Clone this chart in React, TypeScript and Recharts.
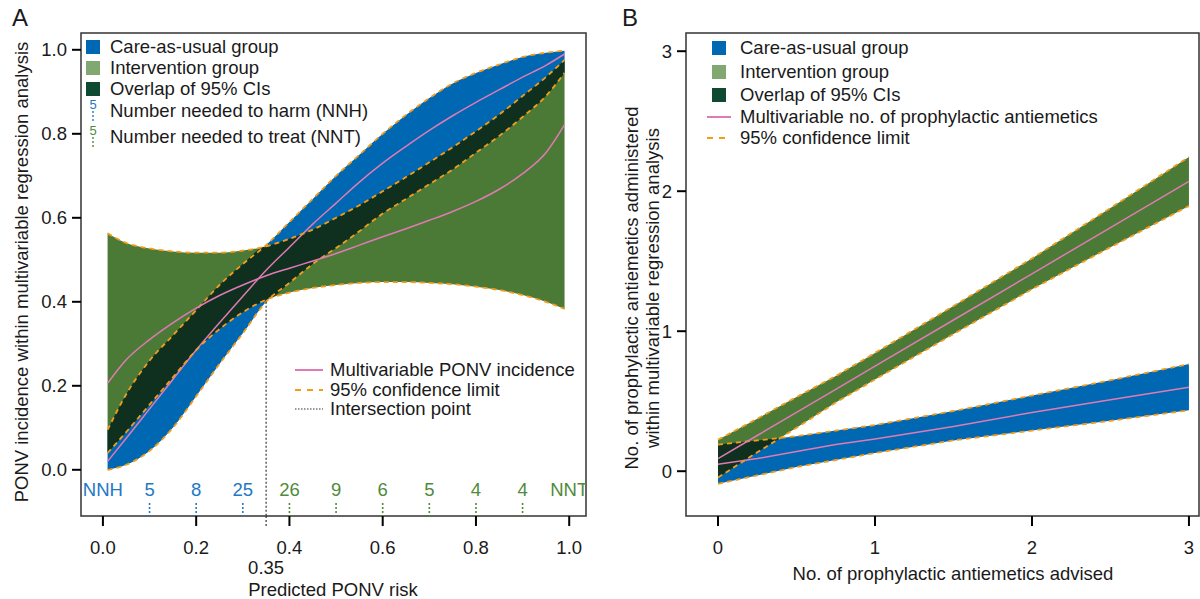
import React from 'react';
import { ComposedChart, Area, Line, XAxis, YAxis, ReferenceArea, ReferenceLine, Scatter } from 'recharts';

const FONT = '"Liberation Sans", Arial, Helvetica, sans-serif';
const TXT = '#1a1a1a';
const BLUE = '#0067b2';
const GREEN = '#4b7a36';
const DARK = '#001e1a';
const PINK = '#e07ab5';
const ORANGE = '#f39c1c';
const NNH_BLUE = '#2278c4';
const NNT_GREEN = '#4f8b3b';
const LEG_BLUE = '#0067b2';
const LEG_GREEN = '#82a872';
const LEG_DARK = '#0d4a31';
const FS = 18.5;

// ---------- Panel A data ----------
const riskX = [0.01, 0.05, 0.1, 0.15, 0.2, 0.25, 0.3, 0.35, 0.4, 0.45, 0.5, 0.55, 0.6, 0.65, 0.7, 0.75, 0.8, 0.85, 0.9, 0.95, 0.99];
const careEstA = [0.02, 0.075, 0.145, 0.215, 0.285, 0.35, 0.413, 0.475, 0.53, 0.585, 0.635, 0.685, 0.73, 0.77, 0.808, 0.843, 0.875, 0.905, 0.935, 0.963, 0.99];
const careHiA = [0.095, 0.18, 0.26, 0.32, 0.38, 0.44, 0.49, 0.535, 0.59, 0.645, 0.7, 0.75, 0.8, 0.845, 0.885, 0.92, 0.945, 0.965, 0.983, 0.993, 0.998];
const careLoA = [0.0, 0.012, 0.045, 0.1, 0.175, 0.252, 0.325, 0.4, 0.445, 0.49, 0.528, 0.568, 0.61, 0.645, 0.68, 0.715, 0.755, 0.795, 0.84, 0.89, 0.945];
const intEstA = [0.206, 0.262, 0.31, 0.35, 0.385, 0.415, 0.44, 0.462, 0.48, 0.497, 0.515, 0.535, 0.555, 0.574, 0.594, 0.615, 0.639, 0.668, 0.705, 0.755, 0.822];
const intHiA = [0.563, 0.54, 0.527, 0.52, 0.517, 0.517, 0.522, 0.532, 0.55, 0.572, 0.6, 0.63, 0.663, 0.697, 0.732, 0.768, 0.806, 0.846, 0.89, 0.935, 0.976];
const intLoA = [0.04, 0.09, 0.155, 0.22, 0.285, 0.335, 0.375, 0.405, 0.422, 0.433, 0.44, 0.445, 0.447, 0.447, 0.445, 0.442, 0.436, 0.428, 0.416, 0.4, 0.383];
const xTicksA = [0, 0.2, 0.35, 0.4, 0.6, 0.8, 1];
const yTicksA = [0, 0.2, 0.4, 0.6, 0.8, 1];
const intersectionX = 0.35;
const intersectionLowY = 0.4;
const nnhX = [0.1, 0.2, 0.3];
const nnhLabels = ['5', '8', '25'];
const nntX = [0.4, 0.5, 0.6, 0.7, 0.8, 0.9];
const nntLabels = ['26', '9', '6', '5', '4', '4'];
const nnRowY = -0.048;
const xDomA: [number, number] = [-0.047, 1.036];
const yDomA: [number, number] = [-0.11, 1.04];

// ---------- Panel B data ----------
const advisedX = [0, 0.25, 0.5, 0.75, 1, 1.5, 2, 2.5, 3];
const careEstB = [0.05, 0.09, 0.14, 0.19, 0.23, 0.32, 0.42, 0.51, 0.6];
const careHiB = [0.19, 0.22, 0.25, 0.29, 0.33, 0.43, 0.54, 0.65, 0.765];
const careLoB = [-0.09, -0.03, 0.03, 0.08, 0.13, 0.22, 0.29, 0.36, 0.435];
const intEstB = [0.09, 0.255, 0.42, 0.585, 0.75, 1.08, 1.41, 1.74, 2.07];
const intHiB = [0.225, 0.375, 0.53, 0.68, 0.845, 1.18, 1.52, 1.88, 2.245];
const intLoB = [-0.045, 0.135, 0.31, 0.49, 0.655, 0.98, 1.3, 1.6, 1.895];
const xTicksB = [0, 1, 2, 3];
const yTicksB = [0, 1, 2, 3];
const xDomB: [number, number] = [-0.204, 3.064];
const yDomB: [number, number] = [-0.32, 3.13];

function overlapRows(xs: number[], aLo: number[], aHi: number[], bLo: number[], bHi: number[]) {
  const rows: { x: number; band: [number, number] | null }[] = [];
  const make = (x: number, al: number, ah: number, bl: number, bh: number) => {
    const lo = Math.max(al, bl);
    const hi = Math.min(ah, bh);
    return { x, band: hi >= lo - 1e-9 ? ([lo, Math.max(hi, lo)] as [number, number]) : null };
  };
  for (let i = 0; i < xs.length; i++) {
    rows.push(make(xs[i], aLo[i], aHi[i], bLo[i], bHi[i]));
    if (i === xs.length - 1) break;
    const ts: number[] = [];
    [[aHi, bHi], [aLo, bLo], [aHi, bLo], [aLo, bHi]].forEach(([p, q]) => {
      const d0 = p[i] - q[i];
      const d1 = p[i + 1] - q[i + 1];
      if (d0 * d1 < 0) ts.push(d0 / (d0 - d1));
    });
    ts.sort((a, b) => a - b).forEach((t) => {
      const at = (arr: number[]) => arr[i] + (arr[i + 1] - arr[i]) * t;
      rows.push(make(xs[i] + (xs[i + 1] - xs[i]) * t, at(aLo), at(aHi), at(bLo), at(bHi)));
    });
  }
  return rows.filter((r) => r.band !== null);
}

const rowsA = riskX.map((x, i) => ({
  x,
  careBand: [careLoA[i], careHiA[i]],
  intBand: [intLoA[i], intHiA[i]],
  careEst: careEstA[i],
  careLo: careLoA[i],
  careHi: careHiA[i],
  intEst: intEstA[i],
  intLo: intLoA[i],
  intHi: intHiA[i],
}));
const overlapA = overlapRows(riskX, careLoA, careHiA, intLoA, intHiA);

const rowsB = advisedX.map((x, i) => ({
  x,
  careBand: [careLoB[i], careHiB[i]],
  intBand: [intLoB[i], intHiB[i]],
  careEst: careEstB[i],
  careLo: careLoB[i],
  careHi: careHiB[i],
  intEst: intEstB[i],
  intLo: intLoB[i],
  intHi: intHiB[i],
}));
const overlapB = overlapRows(advisedX, careLoB, careHiB, intLoB, intHiB);

const nnRows = [
  { x: 0, y: nnRowY, label: 'NNH', color: NNH_BLUE, tick: false },
  ...nnhX.map((x, i) => ({ x, y: nnRowY, label: nnhLabels[i], color: NNH_BLUE, tick: true })),
  ...nntX.map((x, i) => ({ x, y: nnRowY, label: nntLabels[i], color: NNT_GREEN, tick: true })),
  { x: 1, y: nnRowY, label: 'NNT', color: NNT_GREEN, tick: false },
];

const NNShape = (props: any) => {
  const { cx, cy, payload } = props;
  if (cx == null || cy == null) return <g />;
  return (
    <g>
      <text x={cx} y={cy} textAnchor="middle" dominantBaseline="central" fontSize={FS} fontFamily={FONT} fill={payload.color}>
        {payload.label}
      </text>
      {payload.tick && (
        <line x1={cx} x2={cx} y1={cy + 13} y2={cy + 27} stroke={payload.color} strokeWidth={1.6} strokeDasharray="2 2" />
      )}
    </g>
  );
};

const makeXTick = (fmt: (v: number) => string, special: boolean) => (props: any) => {
  const { x, y, payload } = props;
  const v = payload.value;
  if (special && Math.abs(v - intersectionX) < 1e-9) {
    return (
      <g>
        <line x1={x} x2={x} y1={y} y2={y + 11} stroke="#333" strokeWidth={1.2} strokeDasharray="2 2" />
        <text x={x} y={y + 51} textAnchor="middle" dominantBaseline="central" fontSize={FS} fontFamily={FONT} fill={TXT}>
          {String(v)}
        </text>
      </g>
    );
  }
  return (
    <g>
      <line x1={x} x2={x} y1={y} y2={y + 10} stroke="#000" strokeWidth={2} />
      <text x={x} y={y + 31} textAnchor="middle" dominantBaseline="central" fontSize={FS} fontFamily={FONT} fill={TXT}>
        {fmt(v)}
      </text>
    </g>
  );
};

const makeYTick = (fmt: (v: number) => string) => (props: any) => {
  const { x, y, payload } = props;
  return (
    <g>
      <line x1={x - 9} x2={x} y1={y} y2={y} stroke="#000" strokeWidth={2} />
      <text x={x - 14} y={y} textAnchor="end" dominantBaseline="central" fontSize={FS} fontFamily={FONT} fill={TXT}>
        {fmt(payload.value)}
      </text>
    </g>
  );
};

const fmt1 = (v: number) => v.toFixed(1);
const fmt0 = (v: number) => String(v);

const PanelA = () => (
  <ComposedChart width={600} height={599} data={rowsA} margin={{ top: 33, right: 14, bottom: 23, left: 21 }}>
    <XAxis
      dataKey="x"
      type="number"
      domain={xDomA}
      allowDataOverflow
      ticks={xTicksA}
      interval={0}
      axisLine={false}
      tickLine={false}
      tickSize={0}
      tickMargin={0}
      height={60}
      tick={makeXTick(fmt1, true)}
    />
    <YAxis
      type="number"
      domain={yDomA}
      allowDataOverflow
      ticks={yTicksA}
      interval={0}
      axisLine={false}
      tickLine={false}
      tickSize={0}
      tickMargin={0}
      width={60}
      tick={makeYTick(fmt1)}
    />
    <Area type="monotone" dataKey="careBand" fill={BLUE} fillOpacity={1} stroke="none" isAnimationActive={false} />
    <Area type="monotone" dataKey="intBand" fill={GREEN} fillOpacity={1} stroke="none" isAnimationActive={false} />
    <Line type="monotone" dataKey="careEst" stroke={PINK} strokeWidth={1.5} dot={false} isAnimationActive={false} />
    <Line type="monotone" dataKey="careLo" stroke={ORANGE} strokeWidth={1.8} strokeDasharray="5 4" dot={false} isAnimationActive={false} />
    <Line type="monotone" dataKey="careHi" stroke={ORANGE} strokeWidth={1.8} strokeDasharray="5 4" dot={false} isAnimationActive={false} />
    <Area type="monotone" data={overlapA} dataKey="band" fill={DARK} fillOpacity={0.8} stroke="none" isAnimationActive={false} />
    <Line type="monotone" dataKey="intEst" stroke={PINK} strokeWidth={1.5} dot={false} isAnimationActive={false} />
    <Line type="monotone" dataKey="intLo" stroke={ORANGE} strokeWidth={1.8} strokeDasharray="5 4" dot={false} isAnimationActive={false} />
    <Line type="monotone" dataKey="intHi" stroke={ORANGE} strokeWidth={1.8} strokeDasharray="5 4" dot={false} isAnimationActive={false} />
    <ReferenceLine
      segment={[{ x: intersectionX, y: intersectionLowY }, { x: intersectionX, y: yDomA[0] }]}
      stroke="#333"
      strokeWidth={1.2}
      strokeDasharray="2 2"
    />
    <Scatter data={nnRows} dataKey="y" shape={NNShape} isAnimationActive={false} />
    <ReferenceArea x1={xDomA[0]} x2={xDomA[1]} y1={yDomA[0]} y2={yDomA[1]} fill="none" fillOpacity={0} stroke="#333" strokeWidth={1.5} />
  </ComposedChart>
);

const PanelB = () => (
  <ComposedChart width={600} height={599} data={rowsB} margin={{ top: 33, right: 1, bottom: 23, left: 26 }}>
    <XAxis
      dataKey="x"
      type="number"
      domain={xDomB}
      allowDataOverflow
      ticks={xTicksB}
      interval={0}
      axisLine={false}
      tickLine={false}
      tickSize={0}
      tickMargin={0}
      height={60}
      tick={makeXTick(fmt0, false)}
    />
    <YAxis
      type="number"
      domain={yDomB}
      allowDataOverflow
      ticks={yTicksB}
      interval={0}
      axisLine={false}
      tickLine={false}
      tickSize={0}
      tickMargin={0}
      width={60}
      tick={makeYTick(fmt0)}
    />
    <Area type="linear" dataKey="careBand" fill={BLUE} fillOpacity={1} stroke="none" isAnimationActive={false} />
    <Area type="linear" dataKey="intBand" fill={GREEN} fillOpacity={1} stroke="none" isAnimationActive={false} />
    <Line type="linear" dataKey="careEst" stroke={PINK} strokeWidth={1.5} dot={false} isAnimationActive={false} />
    <Line type="linear" dataKey="careLo" stroke={ORANGE} strokeWidth={1.8} strokeDasharray="5 4" dot={false} isAnimationActive={false} />
    <Line type="linear" dataKey="careHi" stroke={ORANGE} strokeWidth={1.8} strokeDasharray="5 4" dot={false} isAnimationActive={false} />
    <Area type="linear" data={overlapB} dataKey="band" fill={DARK} fillOpacity={0.8} stroke="none" isAnimationActive={false} />
    <Line type="linear" dataKey="intEst" stroke={PINK} strokeWidth={1.5} dot={false} isAnimationActive={false} />
    <Line type="linear" dataKey="intLo" stroke={ORANGE} strokeWidth={1.8} strokeDasharray="5 4" dot={false} isAnimationActive={false} />
    <Line type="linear" dataKey="intHi" stroke={ORANGE} strokeWidth={1.8} strokeDasharray="5 4" dot={false} isAnimationActive={false} />
    <ReferenceArea x1={xDomB[0]} x2={xDomB[1]} y1={yDomB[0]} y2={yDomB[1]} fill="none" fillOpacity={0} stroke="#333" strokeWidth={1.5} />
  </ComposedChart>
);

const Txt = ({ x, y, children, size = FS, color = TXT, anchor = 'start', rotate = 0 }: any) => {
  const tx = anchor === 'middle' ? '-50%' : anchor === 'end' ? '-100%' : '0';
  return (
    <div
      style={{
        position: 'absolute',
        left: x,
        top: y,
        transform: `translate(${tx}, -50%)${rotate ? ` rotate(${rotate}deg)` : ''}`,
        fontSize: size,
        lineHeight: 1,
        color,
        whiteSpace: 'nowrap',
        fontFamily: FONT,
      }}
    >
      {children}
    </div>
  );
};

const Swatch = ({ x, y, color }: any) => (
  <div style={{ position: 'absolute', left: x, top: y - 7, width: 14, height: 14, background: color }} />
);

const LineSample = ({ x, y, w, color, dash, width = 2 }: any) => (
  <svg style={{ position: 'absolute', left: x, top: y - 3 }} width={w} height={6}>
    <line x1={0} x2={w} y1={3} y2={3} stroke={color} strokeWidth={width} strokeDasharray={dash} />
  </svg>
);

const DotTick = ({ x, y1, y2, color }: any) => (
  <svg style={{ position: 'absolute', left: x - 2, top: y1 }} width={4} height={y2 - y1}>
    <line x1={2} x2={2} y1={0} y2={y2 - y1} stroke={color} strokeWidth={1.4} strokeDasharray="2 2" />
  </svg>
);

export default function App() {
  return (
    <div style={{ position: 'absolute', left: 0, top: 0, width: 1200, height: 599, background: '#fff', overflow: 'hidden', fontFamily: FONT }}>
      <div style={{ position: 'absolute', left: 0, top: 0 }}>
        <PanelA />
      </div>
      <div style={{ position: 'absolute', left: 600, top: 0 }}>
        <PanelB />
      </div>

      {/* Panel letters */}
      <Txt x={12} y={18} size={24}>A</Txt>
      <Txt x={622} y={18} size={24}>B</Txt>

      {/* Panel A legend (top) */}
      <Swatch x={86} y={47} color={LEG_BLUE} />
      <Txt x={110} y={47}>Care-as-usual group</Txt>
      <Swatch x={86} y={68} color={LEG_GREEN} />
      <Txt x={110} y={68}>Intervention group</Txt>
      <Swatch x={86} y={89} color={LEG_DARK} />
      <Txt x={110} y={89}>Overlap of 95% CIs</Txt>
      <Txt x={93} y={104} size={13} color={NNH_BLUE} anchor="middle">5</Txt>
      <DotTick x={93} y1={111} y2={123} color={NNH_BLUE} />
      <Txt x={110} y={111}>Number needed to harm (NNH)</Txt>
      <Txt x={93} y={130} size={13} color={NNT_GREEN} anchor="middle">5</Txt>
      <DotTick x={93} y1={137} y2={149} color={NNT_GREEN} />
      <Txt x={110} y={137}>Number needed to treat (NNT)</Txt>

      {/* Panel A legend (lower) */}
      <LineSample x={295} y={370} w={28} color={PINK} />
      <Txt x={330} y={370}>Multivariable PONV incidence</Txt>
      <LineSample x={295} y={390} w={28} color={ORANGE} dash="6 6" />
      <Txt x={330} y={390}>95% confidence limit</Txt>
      <LineSample x={295} y={409} w={28} color="#333" dash="1.5 1.5" width={1.2} />
      <Txt x={330} y={409}>Intersection point</Txt>

      {/* Panel A axis titles */}
      <Txt x={22} y={272} anchor="middle" rotate={-90}>PONV incidence within multivariable regression analysis</Txt>
      <Txt x={333} y={590} anchor="middle">Predicted PONV risk</Txt>

      {/* Panel B legend */}
      <Swatch x={712} y={48} color={LEG_BLUE} />
      <Txt x={740} y={48}>Care-as-usual group</Txt>
      <Swatch x={712} y={72} color={LEG_GREEN} />
      <Txt x={740} y={72}>Intervention group</Txt>
      <Swatch x={712} y={95} color={LEG_DARK} />
      <Txt x={740} y={95}>Overlap of 95% CIs</Txt>
      <LineSample x={707} y={117} w={24} color={PINK} />
      <Txt x={740} y={117}>Multivariable no. of prophylactic antiemetics</Txt>
      <LineSample x={707} y={138} w={24} color={ORANGE} dash="6 6" />
      <Txt x={740} y={138}>95% confidence limit</Txt>

      {/* Panel B axis titles */}
      <Txt x={632} y={288} anchor="middle" rotate={-90}>No. of prophylactic antiemetics administered</Txt>
      <Txt x={653} y={288} anchor="middle" rotate={-90}>within multivariable regression analysis</Txt>
      <Txt x={953} y={574} anchor="middle">No. of prophylactic antiemetics advised</Txt>
    </div>
  );
}
